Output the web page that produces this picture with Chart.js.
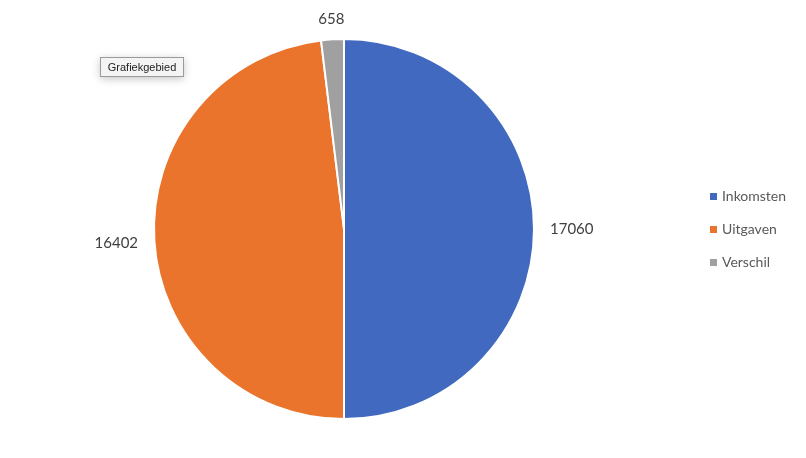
<!DOCTYPE html>
<html>
<head>
<meta charset="utf-8">
<script src="https://cdn.jsdelivr.net/npm/chart.js@4/dist/chart.umd.min.js"></script>
<style>
  html, body { margin: 0; padding: 0; background: #fff; }
  #wrap { width: 806px; height: 458px; position: relative; }
</style>
</head>
<body>
<div id="wrap"><canvas id="pieChart"></canvas></div>
<script>
// data
const labels = ["Inkomsten", "Uitgaven", "Verschil"];
const values = [17060, 16402, 658];
const colors = ["#4069BF", "#EB742D", "#A0A0A0"];

const FONT = "Lato, 'Open Sans', sans-serif";

// value labels outside each slice
const outsideLabels = {
  id: "outsideLabels",
  afterDatasetsDraw(chart) {
    const ctx = chart.ctx;
    const meta = chart.getDatasetMeta(0);
    ctx.save();
    ctx.font = "15px " + FONT;
    ctx.fillStyle = "#404040";
    ctx.textAlign = "center";
    ctx.textBaseline = "middle";
    meta.data.forEach((arc, i) => {
      const p = arc.getProps(["x", "y", "startAngle", "endAngle", "outerRadius"], true);
      const mid = (p.startAngle + p.endAngle) / 2;
      const txt = String(values[i]);
      const hw = ctx.measureText(txt).width / 2 + 4;
      const hh = 7;
      const d = p.outerRadius + 12 + hw * Math.abs(Math.cos(mid)) + hh * Math.abs(Math.sin(mid));
      ctx.fillText(txt, p.x + Math.cos(mid) * d, p.y + Math.sin(mid) * d);
    });
    ctx.restore();
  }
};

// legend on the right, Excel style
const sideLegend = {
  id: "sideLegend",
  afterDraw(chart) {
    const ctx = chart.ctx;
    ctx.save();
    ctx.font = "14px " + FONT;
    ctx.textBaseline = "middle";
    labels.forEach((lab, i) => {
      const y = 196 + i * 33;
      ctx.fillStyle = colors[i];
      ctx.fillRect(710, y - 3, 7, 7);
      ctx.fillStyle = "#595959";
      ctx.fillText(lab, 722, y);
    });
    ctx.restore();
  }
};

// the "Grafiekgebied" hover tag
const areaTag = {
  id: "areaTag",
  afterDraw(chart) {
    const ctx = chart.ctx;
    ctx.save();
    ctx.shadowColor = "rgba(0,0,0,0.25)";
    ctx.shadowBlur = 8;
    ctx.shadowOffsetY = 2;
    ctx.fillStyle = "#f4f4f4";
    ctx.fillRect(100.5, 57.5, 83, 19);
    ctx.shadowColor = "transparent";
    ctx.strokeStyle = "#9a9a9a";
    ctx.lineWidth = 1;
    ctx.strokeRect(100.5, 57.5, 83, 19);
    ctx.fillStyle = "#222";
    ctx.font = "11px 'Liberation Sans', sans-serif";
    ctx.textBaseline = "middle";
    ctx.textAlign = "center";
    ctx.fillText("Grafiekgebied", 142, 67.5);
    ctx.restore();
  }
};

new Chart(document.getElementById("pieChart"), {
  type: "pie",
  data: {
    labels: labels,
    datasets: [{
      data: values,
      backgroundColor: colors,
      borderColor: "#ffffff",
      borderWidth: 2
    }]
  },
  options: {
    responsive: true,
    maintainAspectRatio: false,
    animation: false,
    layout: { padding: { left: 153, right: 271, top: 38, bottom: 38 } },
    plugins: {
      legend: { display: false },
      tooltip: { enabled: false }
    }
  },
  plugins: [outsideLabels, sideLegend, areaTag]
});
</script>
</body>
</html>
